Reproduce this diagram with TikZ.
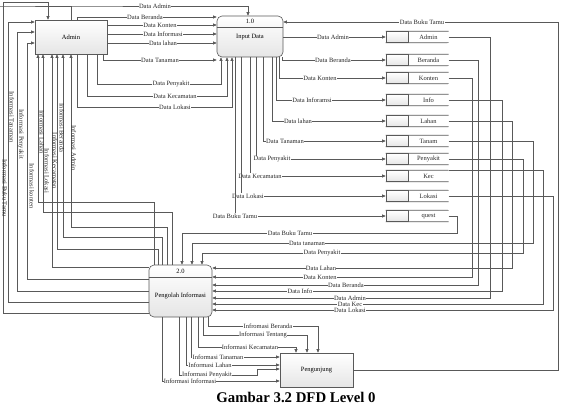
\documentclass[tikz,border=0pt]{standalone}
\usepackage{fontspec}
\setmainfont{Liberation Serif}
\usetikzlibrary{arrows.meta,positioning}

\begin{document}
\begin{tikzpicture}[
  x=1pt, y=-1pt,
  font=\fontsize{6.5}{7}\selectfont,
  ln/.style={draw=black!65, line width=0.6pt},
  flow/.style={ln, -{Triangle[length=3.5pt,width=3pt]}},
  lbl/.style={fill=white, inner sep=0.4pt, text=black!85},
  vlbl/.style={inner sep=0pt, text=black!85, rotate=-90},
  ent/.style={draw=black!65, line width=0.6pt, top color=white, bottom color=black!10},
  proc/.style={draw=black!65, line width=0.6pt, rounded corners=5pt,
               top color=white, bottom color=black!10},
  store/.style={draw=black!65, line width=0.6pt, top color=white, bottom color=black!10,
                minimum width=22pt, minimum height=11pt, inner sep=0pt},
  stxt/.style={minimum width=40pt, minimum height=11pt, inner sep=0pt, text=black!85},
]
\useasboundingbox (0,0) rectangle (561,406);

% ---- External entities ----
\node[ent, minimum width=72pt, minimum height=34pt] (admin) at (71,37) {Admin};
\node[ent, minimum width=73pt, minimum height=34pt] (peng) at (316.5,370) {Pengunjung};

% ---- Processes ----
\node[proc, minimum width=66pt, minimum height=41pt] (inp) at (250,36.5) {};
\node (inpid) at (250,21.5) {1.0};
\node (inpname) at (250,37) {Input Data};
\draw[ln] (inp.west |- 0,27) -- (inp.east |- 0,27);

\node[proc, minimum width=63pt, minimum height=52pt] (pi) at (180.5,291) {};
\node (piid) at (180.5,271) {2.0};
\node (piname) at (180.5,296) {Pengolah Informasi};
\draw[ln] (pi.west |- 0,277) -- (pi.east |- 0,277);

% ---- Data stores ----
\foreach \n/\y/\t in {sAdmin/37/Admin, sBeranda/60/Beranda, sKonten/78/Konten,
    sInfo/100/Info, sLahan/121/Lahan, sTanam/141/Tanam, sPenyakit/159/Penyakit,
    sKec/176/Kec, sLokasi/196/Lokasi, sQuest/216/quest}{
  \node[store] (\n) at (397,\y) {};
  \node[stxt, right=0pt of \n] (\n-t) {\t};
  \draw[ln] (\n.north west) -- (\n-t.north east);
  \draw[ln] (\n.south west) -- (\n-t.south east);
}

% ---- Admin -> Input Data ----
\draw[flow] (admin.north) |- (0,6) -| (inp.north -| 248,0) node[lbl] at (155,6) {Data Admin};
\draw[flow] (admin.north -| 77,0) |- (inp.west |- 0,17) node[lbl] at (145,17) {Data Beranda};
\draw[flow] (admin.east |- 0,25) -- (inp.west |- 0,25) node[lbl] at (160,25) {Data Konten};
\draw[flow] (admin.east |- 0,34) -- (inp.west |- 0,34) node[lbl] at (163,34) {Data Informasi};
\draw[flow] (admin.east |- 0,43) -- (inp.west |- 0,43) node[lbl] at (163,43) {Data lahan};
\draw[flow] (admin.south -| 103,0) |- (inp.south west |- 0,60) node[lbl] at (160,60) {Data Tanaman};
\draw[flow] (admin.south -| 97,0) -- ++(0,30) -| (inp.south -| 221,0) node[lbl] at (171,84) {Data Penyakit};
\draw[flow] (admin.south -| 87,0) -- ++(0,42) -| (inp.south -| 227,0) node[lbl] at (175,96) {Data Kecamatan};
\draw[flow] (admin.south -| 77,0) -- ++(0,53) -| (inp.south -| 232,0) node[lbl] at (175,107) {Data Lokasi};

% ---- Input Data -> stores ----
\draw[flow] (inp.east |- sAdmin) -- (sAdmin.west) node[lbl] at (333,37) {Data Admin};
\draw[flow] (inp.south -| 282,0) |- (sBeranda.west) node[lbl] at (333,60) {Data Beranda};
\draw[flow] (inp.south -| 279,0) |- (sKonten.west) node[lbl] at (320,78) {Data Konten};
\draw[flow] (inp.south -| 276,0) |- (sInfo.west) node[lbl] at (312,100) {Data Inforamsi};
\draw[flow] (inp.south -| 272,0) |- (sLahan.west) node[lbl] at (298,121) {Data lahan};
\draw[flow] (inp.south -| 263,0) |- (sTanam.west) node[lbl] at (285,141) {Data Tanaman};
\draw[flow] (inp.south -| 256,0) |- (sPenyakit.west) node[lbl] at (272,159) {Data Penyakit};
\draw[flow] (inp.south -| 250,0) |- (sKec.west) node[lbl] at (260,176) {Data Kecamatan};
\draw[flow] (inp.south -| 241,0) |- (sLokasi.west) node[lbl] at (248,196) {Data Lokasi};
\draw[flow] (inp.south -| 235,0) |- (sQuest.west) node[lbl] at (235,216) {Data Buku Tamu};

% ---- Stores -> Pengolah Informasi ----
\draw[flow] (sQuest-t.east) -- ++(9,0) -- ++(0,17) -| (pi.north -| 182,0) node[lbl] at (290,233) {Data Buku Tamu};
\draw[flow] (sTanam-t.east) -| (533,243) -| (pi.north -| 192,0) node[lbl] at (307,243) {Data tanaman};
\draw[flow] (sPenyakit-t.east) -| (523,253) -| (pi.north -| 202,0) node[lbl] at (322,253) {Data Penyakit};
\draw[flow] (sLahan-t.east) -| (512,268) -- (pi.east |- 0,268) node[lbl] at (321,268) {Data Lahan};
\draw[flow] (sKonten-t.east) -| (472,277) -- (pi.east |- 0,277) node[lbl] at (320,277) {Data Konten};
\draw[flow] (sBeranda-t.east) -| (478,285) -- (pi.east |- 0,285) node[lbl] at (346,285) {Data Beranda};
\draw[flow] (sInfo-t.east) -| (502,291) -- (pi.east |- 0,291) node[lbl] at (300,291) {Data Info};
\draw[flow] (sAdmin-t.east) -| (490,298) -- (pi.east |- 0,298) node[lbl] at (350,298) {Data Admin};
\draw[flow] (sKec-t.north east) -| (543,304) -- (pi.east |- 0,304) node[lbl] at (350,304) {Data Kec};
\draw[flow] (sLokasi-t.east) -| (553,310) -- (pi.east |- 0,310) node[lbl] at (350,310) {Data Lokasi};

% ---- Pengolah Informasi -> Admin ----
\draw[flow] (pi.west |- 0,313) -| (3,2) -| (admin.north -| 48,0);
\draw[flow] (pi.west |- 0,302) -| (8,22) -- (admin.west |- 0,22);
\draw[flow] (pi.west |- 0,291) -| (17,32) -- (admin.west |- 0,32);
\draw[flow] (pi.west |- 0,279) -| (27,43) -- (admin.west |- 0,43);
\draw[flow] (pi.west |- 0,267) -| (admin.south -| 52,0);
\draw[flow] (pi.north -| 154,0) |- (38,202) -- (admin.south -| 38,0);
\draw[flow] (pi.north -| 172,0) |- (43,212) -- (admin.south -| 43,0);
\draw[flow] (pi.north -| 167,0) |- (71,227) -- (admin.south -| 71,0);
\draw[flow] (pi.north -| 162,0) |- (63,237) -- (admin.south -| 63,0);
\draw[flow] (pi.north -| 158,0) |- (57,249) -- (admin.south -| 57,0);

\node[vlbl] (lBuku) at (5,188) {Informasi Buku Tamu};
\node[vlbl] (lTanam) at (12,117) {Informasi Tanaman};
\node[vlbl] (lPeny) at (21,134) {Informasi Penyakit};
\node[vlbl] (lKonten) at (32,186) {Informasi konten};
\node[vlbl] (lLahan) at (42,132) {Informasi Lahan};
\node[vlbl] (lLokasi) at (47,171) {Informasi Lokasi};
\node[vlbl] (lKec) at (55,161) {Informasi Kecamatan};
\node[vlbl] (lBeranda) at (62,128) {Informasi Beranda};
\node[vlbl] (lAdmin) at (74,148) {Informasi Admin};

% ---- Pengolah Informasi -> Pengunjung ----
\draw[flow] (pi.south -| 208,0) -- ++(0,9) -| (peng.north -| 318,0) node[lbl] at (268,326) {Infromasi Beranda};
\draw[flow] (pi.south -| 203,0) -- ++(0,18) -| (peng.north -| 307,0) node[lbl] at (263,335) {Informasi Tentang};
\draw[flow] (pi.south -| 198,0) -- ++(0,30) -| (peng.north -| 296,0) node[lbl] at (250,347) {Informasi Kecamatan};
\draw[flow] (pi.south -| 191,0) |- (peng.west |- 0,357) node[lbl] at (218,357) {Informasi Tanaman};
\draw[flow] (pi.south -| 186,0) |- (peng.west |- 0,365) node[lbl] at (210,365) {Informasi Lahan};
\draw[flow] (pi.south -| 179,0) |- (257,375) |- (peng.west |- 0,369) node[lbl] at (207,375) {Informasi Penyakit};
\draw[flow] (pi.south -| 162,0) |- (peng.west |- 0,381) node[lbl] at (190,381) {Informasi Informasi};

% ---- Pengunjung -> Input Data ----
\draw[flow] (peng.east) -| (558,22) -- (inp.east |- 0,22) node[lbl] at (422,22) {Data Buku Tamu};

% Caption
\node[font=\bfseries\fontsize{14.8}{16}\selectfont, inner sep=1pt] (cap) at (296,397) {Gambar 3.2 DFD Level 0};
\end{tikzpicture}
\end{document}
